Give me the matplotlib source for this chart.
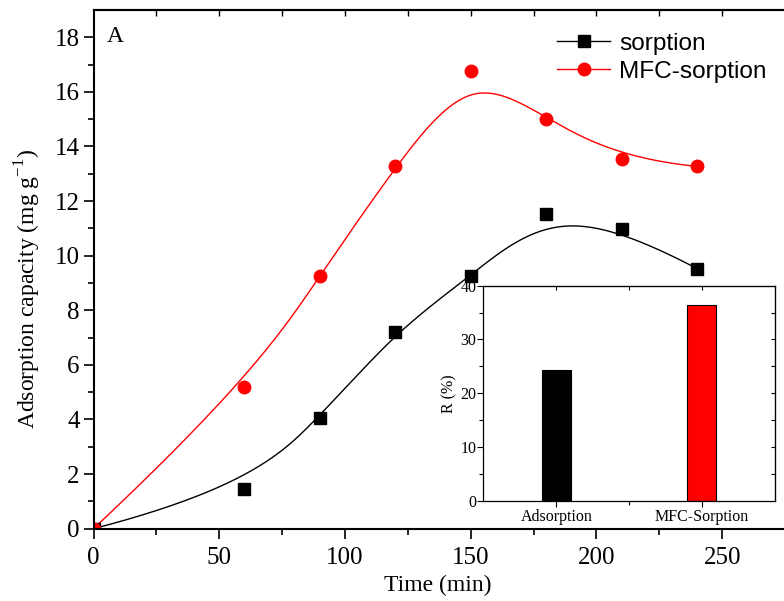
import numpy as np
import matplotlib
matplotlib.use("Agg")
import matplotlib.pyplot as plt

# data
time_min = [0, 60, 90, 120, 150, 180, 210, 240]
sorption = [0, 1.44, 4.06, 7.22, 9.25, 11.54, 10.97, 9.53]
mfc_sorption = [0, 5.20, 9.26, 13.28, 16.75, 15.02, 13.55, 13.27]

inset_labels = ["Adsorption", "MFC-Sorption"]
inset_values = [24.3, 36.4]
inset_colors = ["black", "red"]


def bspline(px, py, k=3, n=500):
    """Clamped cubic B-spline using the points as control points (Origin style)."""
    px = np.asarray(px, float)
    py = np.asarray(py, float)
    m = len(px)
    knots = np.concatenate([np.zeros(k), np.linspace(0, 1, m - k + 1), np.ones(k)])
    u = np.linspace(0, 1, n)
    u[-1] -= 1e-9
    N = np.array([(knots[i] <= u) & (u < knots[i + 1]) for i in range(len(knots) - 1)], float)
    for d in range(1, k + 1):
        newN = np.zeros((len(knots) - 1 - d, n))
        for i in range(len(knots) - 1 - d):
            a = knots[i + d] - knots[i]
            b = knots[i + d + 1] - knots[i + 1]
            t1 = (u - knots[i]) / a * N[i] if a > 0 else 0
            t2 = (knots[i + d + 1] - u) / b * N[i + 1] if b > 0 else 0
            newN[i] = t1 + t2
        N = newN
    return N.T @ px, N.T @ py


plt.rcParams['font.family'] = ['Liberation Serif', 'DejaVu Serif']

fig = plt.figure(figsize=(7.84, 6.01), dpi=100)
ax = fig.add_axes([0.1193, 0.1203, 0.898, 0.8631])

# curves
bx, by = bspline(time_min, sorption)
ax.plot(bx, by, color='black', lw=1)
rx, ry = bspline(time_min, mfc_sorption)
ax.plot(rx, ry, color='red', lw=1)

# markers
ax.plot(time_min, sorption, 's', color='black', ms=8, ls='none')
ax.plot(time_min, mfc_sorption, 'o', color='red', ms=9, ls='none')

# legend handles
h1, = ax.plot([], [], color='black', lw=1, marker='s', ms=8, label='sorption')
h2, = ax.plot([], [], color='red', lw=1, marker='o', ms=9, label='MFC-sorption')
leg = ax.legend(handles=[h1, h2], loc='upper left', bbox_to_anchor=(0.637, 0.985),
                frameon=False, prop={'family': 'Liberation Sans', 'size': 17.6},
                handlelength=2.2, handletextpad=0.35, labelspacing=0.25,
                borderaxespad=0.2)

ax.set_xlim(0, 280)
ax.set_ylim(0, 19)
ax.set_xticks([0, 50, 100, 150, 200, 250])
ax.set_xticks([25, 75, 125, 175, 225, 275], minor=True)
ax.set_yticks(range(0, 19, 2))
ax.set_yticks(range(1, 19, 2), minor=True)
ax.tick_params(which='major', direction='out', length=7, width=1.2, labelsize=18)
ax.tick_params(which='minor', direction='out', length=4, width=1.2)
ax.tick_params(axis='x', pad=6)
ax.tick_params(axis='y', pad=3)

for s in ['left', 'bottom', 'top', 'right']:
    ax.spines[s].set_linewidth(1.5)

top = ax.secondary_xaxis('top')
top.set_xticks([25, 50, 75, 100, 125, 150, 175, 200, 225, 250, 275])
top.tick_params(direction='in', length=4, width=1, labeltop=False)
top.spines['top'].set_linewidth(1.5)

ax.set_xlabel('Time (min)', fontsize=17)
ax.xaxis.set_label_coords(0.489, -0.089)
ax.set_ylabel('Adsorption capacity (mg g$^{\\mathregular{-1}}$)', fontsize=17)
ax.yaxis.set_label_coords(-0.072, 0.462)
ax.text(0.019, 0.948, 'A', transform=ax.transAxes, fontsize=17, va='center', ha='left')

# inset bar chart
ins = fig.add_axes([0.6167, 0.1669, 0.3714, 0.3577])
pos = np.arange(1, len(inset_values) + 1)
ins.bar(pos, inset_values, width=0.2, color=inset_colors, edgecolor='black', linewidth=0.8)
ins.set_xlim(0.5, 2.5)
ins.set_ylim(0, 40)
ins.set_xticks(pos)
ins.set_xticklabels(inset_labels)
ins.set_xticks([1.5], minor=True)
ins.set_yticks([0, 10, 20, 30, 40])
ins.set_yticks([5, 15, 25, 35], minor=True)
ins.tick_params(which='both', direction='out', labelsize=11.5, width=0.8, pad=2)
ins.tick_params(which='major', length=4)
ins.tick_params(which='minor', length=3)
ins.tick_params(axis='y', pad=1)
ins.set_ylabel('R (%)', fontsize=11.5, labelpad=2)
for s in ins.spines.values():
    s.set_linewidth(0.9)

ins_top = ins.secondary_xaxis('top')
ins_top.set_xticks([1, 1.5, 2])
ins_top.tick_params(direction='in', length=3, width=0.8, labeltop=False)
ins_right = ins.secondary_yaxis('right')
ins_right.set_yticks([5, 10, 15, 20, 25, 30, 35])
ins_right.tick_params(direction='in', length=3, width=0.8, labelright=False)

fig.savefig('out.png', dpi=100)
